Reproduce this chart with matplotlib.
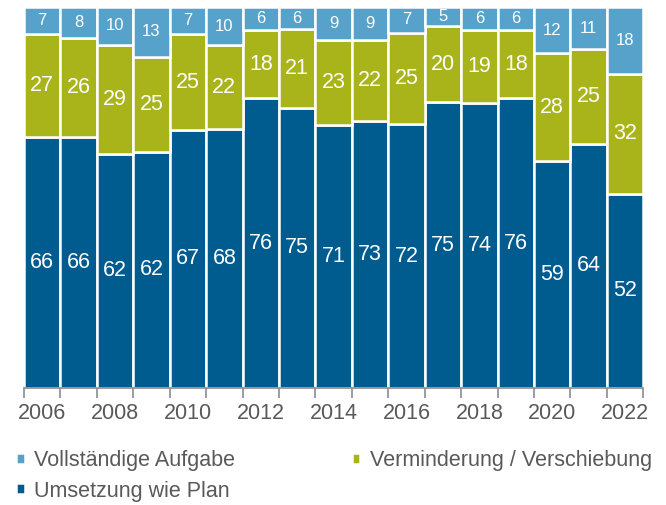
import numpy as np
import matplotlib
matplotlib.use('Agg')
import matplotlib.pyplot as plt

plt.rcParams['font.family'] = ['Liberation Sans', 'DejaVu Sans']

years = list(range(2006, 2023))
plan = [66, 66, 62, 62, 67, 68, 76, 75, 71, 73, 72, 75, 74, 76, 59, 64, 52]   # Umsetzung wie Plan
reduce = [27, 26, 29, 25, 25, 22, 18, 21, 23, 22, 25, 20, 19, 18, 28, 25, 32]  # Verminderung / Verschiebung
full = [7, 8, 10, 13, 7, 10, 6, 6, 9, 9, 7, 5, 6, 6, 12, 11, 18]             # Vollstaendige Aufgabe
tick_years = [2006, 2008, 2010, 2012, 2014, 2016, 2018, 2020, 2022]

c_plan = '#005B8F'
c_red = '#A8B41A'
c_full = '#57A2CA'
grey = '#595959'

fig = plt.figure(figsize=(6.66, 5.05), dpi=100)
ax = fig.add_axes([0.036, 0.232, 0.93, 0.754])

x = np.arange(len(years))
plan = np.array(plan)
reduce = np.array(reduce)
full = np.array(full)

# bars are shown as shares of 100% (rounded values don't always add up)
tot = (plan + reduce + full) / 100.0
p_n = plan / tot
r_n = reduce / tot
f_n = full / tot

b1 = ax.bar(x, p_n, width=1.0, color=c_plan, edgecolor='white', linewidth=1.8, label='Umsetzung wie Plan')
b2 = ax.bar(x, r_n, bottom=p_n, width=1.0, color=c_red, edgecolor='white', linewidth=1.8,
            label='Verminderung / Verschiebung')
b3 = ax.bar(x, f_n, bottom=p_n + r_n, width=1.0, color=c_full, edgecolor='white', linewidth=1.8,
            label='Vollständige Aufgabe')

for i in range(len(x)):
    ax.text(x[i], p_n[i] / 2, str(plan[i]), ha='center', va='center', color='white', fontsize=15.5)
    ax.text(x[i], p_n[i] + r_n[i] / 2, str(reduce[i]), ha='center', va='center', color='white', fontsize=15.5)
    ax.text(x[i], p_n[i] + r_n[i] + f_n[i] / 2, str(full[i]), ha='center', va='center', color='white',
            fontsize=12)

ax.set_xlim(-0.5, len(years) - 0.5)
ax.set_ylim(0, 100)
ax.set_yticks([])
for s in ['top', 'right', 'left']:
    ax.spines[s].set_visible(False)
ax.spines['bottom'].set_color('#8C8C8C')
ax.spines['bottom'].set_linewidth(1.2)

ax.set_xticks([years.index(y) for y in tick_years])
ax.set_xticklabels([str(y) for y in tick_years])
ax.set_xticks(np.arange(-0.5, len(years)), minor=True)
ax.tick_params(axis='x', which='major', length=0, labelsize=15.5, labelcolor=grey, pad=11)
ax.tick_params(axis='x', which='minor', length=7, width=1.2, color='#8C8C8C')

handles = [b3, b1, b2]
leg = fig.legend(handles, [h.get_label() for h in handles], loc='upper left',
                 bbox_to_anchor=(0.024, 0.108), ncol=2, frameon=False, fontsize=15.5,
                 handlelength=0.4, handleheight=0.4, handletextpad=0.45,
                 columnspacing=5.4, labelspacing=0.42, borderaxespad=0, borderpad=0)
for t in leg.get_texts():
    t.set_color(grey)

fig.savefig('out.png', dpi=100)
